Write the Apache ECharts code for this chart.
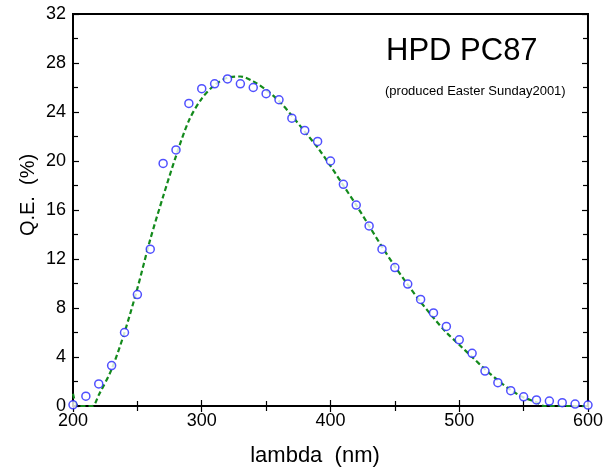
<!DOCTYPE html>
<html>
<head>
<meta charset="utf-8">
<script src="https://cdn.jsdelivr.net/npm/echarts@6/dist/echarts.min.js"></script>
<style>
  html, body { margin: 0; padding: 0; background: #fff; }
  #chart { width: 606px; height: 471px; }
</style>
</head>
<body>
<div id="chart"></div>
<script>
// measured points (open circles)
var lambdaPts = [200, 210, 220, 230, 240, 250, 260, 270, 280, 290, 300, 310, 320, 330, 340, 350, 360, 370, 380, 390,
                 400, 410, 420, 430, 440, 450, 460, 470, 480, 490, 500, 510, 520, 530, 540, 550, 560, 570, 580, 590, 600];
var qePts = [0.1, 0.8, 1.8, 3.3, 6.0, 9.1, 12.8, 19.8, 20.9, 24.7, 25.9, 26.3, 26.7, 26.3, 26.0, 25.5, 25.0, 23.5, 22.5, 21.6,
             20.0, 18.1, 16.4, 14.7, 12.8, 11.3, 9.95, 8.7, 7.6, 6.5, 5.4, 4.3, 2.85, 1.9, 1.25, 0.75, 0.5, 0.4, 0.27, 0.16, 0.08];

// fitted curve (green dashed)
var lambdaFit = [200, 204, 215, 220, 230, 240, 250, 260, 270, 280, 290, 300, 310, 320, 330, 340, 350, 360, 370, 380, 390,
                 400, 410, 420, 430, 440, 450, 460, 470, 480, 490, 500, 510, 520, 530, 540, 550, 560, 566, 600];
var qeFit = [1.0, 0, 0, 0.9, 3.0, 6.0, 9.6, 13.6, 17.1, 20.4, 23.3, 25.1, 26.2, 26.8, 26.9, 26.5, 25.8, 24.9, 23.7, 22.4, 21.1,
             19.6, 18.0, 16.4, 14.7, 13.0, 11.4, 9.9, 8.5, 7.2, 6.0, 5.0, 4.0, 3.0, 2.1, 1.3, 0.7, 0.3, 0, 0];

var xTicks = { min: 200, max: 600, step: 100 };
var yTicks = { min: 0, max: 32, step: 4 };

function pairs(xs, ys) {
  var out = [];
  for (var i = 0; i < xs.length; i++) out.push([xs[i], ys[i]]);
  return out;
}

var font = "'Liberation Sans', Arial, sans-serif";

// each axis gets its own copy of the tick styles
function frame(extra) {
  var a = {
    type: 'value',
    axisLine: { show: false },
    axisTick: { show: true, inside: true, length: 6, lineStyle: { color: '#000', width: 1.2 } },
    minorTick: { show: true, splitNumber: 2, length: 5, lineStyle: { color: '#000', width: 1.2 } },
    splitLine: { show: false },
    axisLabel: { show: false }
  };
  for (var k in extra) a[k] = extra[k];
  return a;
}

var chart = echarts.init(document.getElementById('chart'));
chart.setOption({
  backgroundColor: '#fff',
  animation: false,
  textStyle: { fontFamily: font },
  grid: { left: 73, right: 14, top: 14, bottom: 65, show: true, borderColor: '#000', borderWidth: 2, backgroundColor: 'transparent' },
  xAxis: [
    frame({
      position: 'bottom', min: xTicks.min, max: xTicks.max, interval: xTicks.step,
      axisLabel: { show: true, fontSize: 18, color: '#000', margin: 6, fontFamily: font }
    }),
    frame({ position: 'top', min: xTicks.min, max: xTicks.max, interval: xTicks.step })
  ],
  yAxis: [
    frame({
      position: 'left', min: yTicks.min, max: yTicks.max, interval: yTicks.step,
      axisLabel: { show: true, fontSize: 18, color: '#000', margin: 7, fontFamily: font }
    }),
    frame({ position: 'right', min: yTicks.min, max: yTicks.max, interval: yTicks.step })
  ],
  graphic: [{
    type: 'text', left: 386, top: 36,
    style: { text: 'HPD PC87', font: '31px ' + font, fill: '#000' }
  }, {
    type: 'text', left: 385, top: 85,
    style: { text: '(produced Easter Sunday2001)', font: '13px ' + font, fill: '#000' }
  }, {
    type: 'text', x: 315, y: 456,
    style: { text: 'lambda  (nm)', font: '22px ' + font, fill: '#000', align: 'center', verticalAlign: 'middle' }
  }, {
    type: 'text', x: 28, y: 195, rotation: Math.PI / 2,
    style: { text: 'Q.E.  (%)', font: '20px ' + font, fill: '#000', align: 'center', verticalAlign: 'middle' }
  }],
  series: [{
    type: 'line',
    xAxisIndex: 0, yAxisIndex: 0,
    data: pairs(lambdaFit, qeFit),
    smooth: 0.3,
    showSymbol: false,
    clip: false,
    lineStyle: { color: '#138a1c', width: 2.2, type: [5, 3] },
    z: 2
  }, {
    type: 'scatter',
    xAxisIndex: 0, yAxisIndex: 0,
    data: pairs(lambdaPts, qePts),
    symbol: 'circle',
    symbolSize: 8,
    clip: false,
    itemStyle: { color: '#fff', borderColor: '#2424ff', borderWidth: 1.5 },
    z: 3
  }]
});
</script>
</body>
</html>
